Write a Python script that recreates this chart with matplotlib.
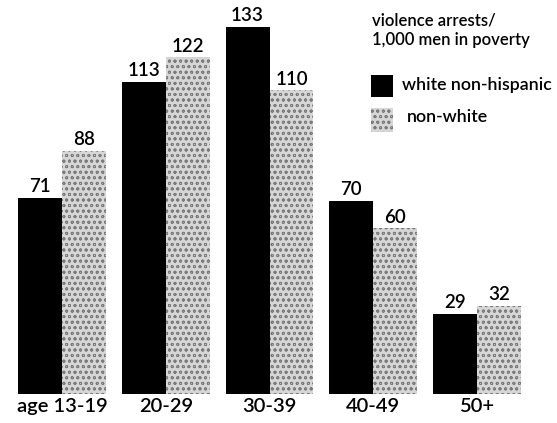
import matplotlib
matplotlib.use("Agg")
import matplotlib.pyplot as plt
from matplotlib.patches import Rectangle
import numpy as np

categories = ["age 13-19", "20-29", "30-39", "40-49", "50+"]
white_non_hispanic = [71, 113, 133, 70, 29]
non_white = [88, 122, 110, 60, 32]
legend_title = "violence arrests/\n1,000 men in poverty"
series_names = ["white non-hispanic", "non-white"]

plt.rcParams['font.family'] = ['Lato', 'DejaVu Sans']
plt.rcParams['hatch.linewidth'] = 0.6
plt.rcParams['hatch.color'] = '#7a7a7a'

W, H = 557, 423
fig = plt.figure(figsize=(W / 100, H / 100), dpi=100)
ax = fig.add_axes([0, 0, 1, 1])

x = np.arange(len(categories))
bw = 0.424
gray_face = '#d6d6d6'
hatch_color = '#7a7a7a'
hatch = 'ooo'
ax.bar(x - bw / 2, white_non_hispanic, width=bw, color='black', linewidth=0)
ax.bar(x + bw / 2, non_white, width=bw, color=gray_face, edgecolor=hatch_color,
       hatch=hatch, linewidth=0)

for xi, v in zip(x - bw / 2, white_non_hispanic):
    ax.text(xi, v + 1.0, str(v), ha='center', va='bottom', fontsize=13.5,
            fontweight='semibold', color='black')
for xi, v in zip(x + bw / 2, non_white):
    ax.text(xi, v + 1.0, str(v), ha='center', va='bottom', fontsize=13.5,
            fontweight='semibold', color='black')

# map pixel layout: group centers at ~62..477 px, baseline at ~394 px
ppu_x = (477 - 62) / 4
ax.set_xlim(-62 / ppu_x, 4 + (W - 477) / ppu_x)
ppu_y = (394 - 27) / 133
ax.set_ylim(-(H - 394) / ppu_y, 394 / ppu_y)

ax.set_xticks(x)
ax.set_xticklabels(categories, fontsize=14.5, fontweight='semibold', color='black')
ax.tick_params(axis='x', length=0, pad=-18)
ax.set_yticks([])
for s in ax.spines.values():
    s.set_visible(False)
ax.patch.set_alpha(0)

# legend (figure pixel coords converted to fractions)
def fx(px):
    return px / W

def fy(py):
    return 1 - py / H

fig.text(fx(372), fy(13), legend_title, ha='left', va='top', fontsize=12,
         linespacing=1.2, color='black', fontweight='semibold')
fig.patches.append(Rectangle((fx(371), fy(97)), fx(22), 22 / H, transform=fig.transFigure,
                             facecolor='black', linewidth=0, figure=fig))
fig.patches.append(Rectangle((fx(371), fy(132)), fx(22), 24 / H, transform=fig.transFigure,
                             facecolor=gray_face, edgecolor=hatch_color, hatch=hatch,
                             linewidth=0, figure=fig))
fig.text(fx(402), fy(85), series_names[0], ha='left', va='center', fontsize=12.8,
         color='black', fontweight='semibold')
fig.text(fx(407), fy(117), series_names[1], ha='left', va='center', fontsize=12.8,
         color='black', fontweight='semibold')

fig.savefig("out.png", dpi=100, facecolor='white')
